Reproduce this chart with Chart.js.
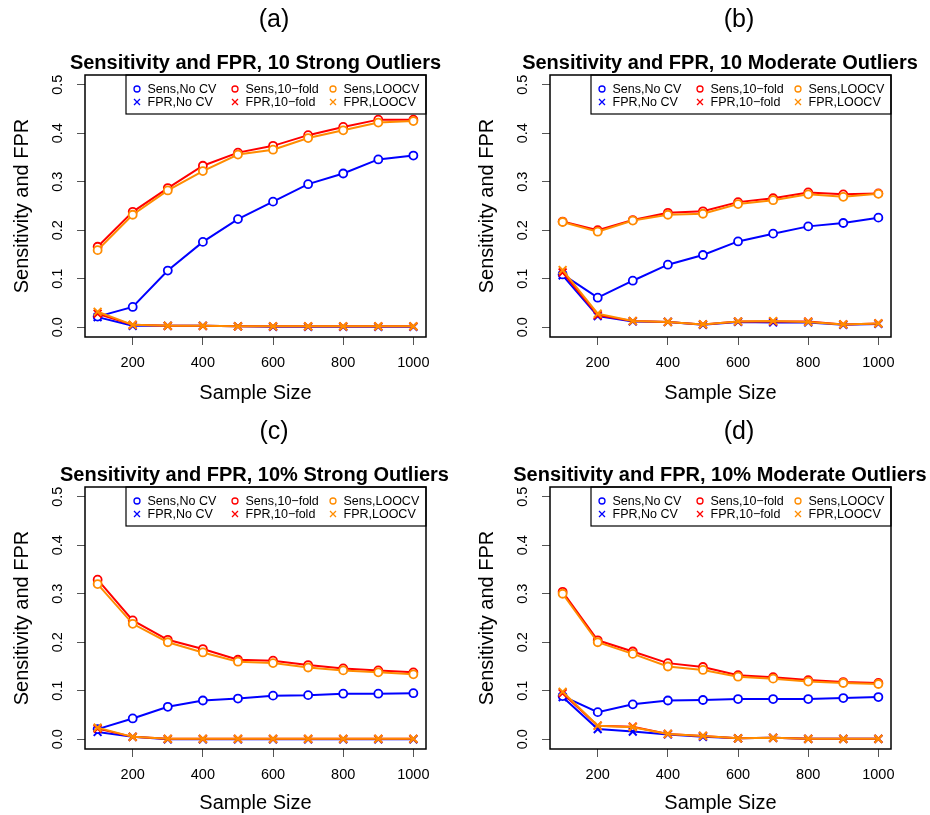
<!DOCTYPE html>
<html>
<head>
<meta charset="utf-8">
<script src="https://cdn.jsdelivr.net/npm/chart.js@4.4.0/dist/chart.umd.min.js"></script>
<style>
html,body{margin:0;padding:0;background:#fff;}
#fig{position:relative;width:930px;height:815px;overflow:hidden;background:#fff;font-family:"Liberation Sans",Arial,sans-serif;color:#000;}
.panel{position:absolute;}
canvas{display:block;}
.lab{position:absolute;font-size:25px;line-height:25px;white-space:nowrap;text-align:center;width:100px;}
.ttl{position:absolute;font-size:20px;font-weight:bold;line-height:20px;white-space:nowrap;text-align:center;width:500px;}
</style>
</head>
<body>
<div id="fig"></div>
<script>
// ---------- data ----------
const sampleSizes = [100, 200, 300, 400, 500, 600, 700, 800, 900, 1000];
const xTicks = [200, 400, 600, 800, 1000];
const yTicks = [0, 0.1, 0.2, 0.3, 0.4, 0.5];
const panelLabels = ['(a)', '(b)', '(c)', '(d)'];
const panelTitles = [
  'Sensitivity and FPR, 10 Strong Outliers',
  'Sensitivity and FPR, 10 Moderate Outliers',
  'Sensitivity and FPR, 10% Strong Outliers',
  'Sensitivity and FPR, 10% Moderate Outliers'
];
const seriesNames = ['Sens,No CV', 'Sens,10\u2212fold', 'Sens,LOOCV', 'FPR,No CV', 'FPR,10\u2212fold', 'FPR,LOOCV'];
const xAxisTitle = 'Sample Size';
const yAxisTitle = 'Sensitivity and FPR';

// panel (a): 10 strong outliers
const sensNoCV_a = [0.022, 0.042, 0.117, 0.176, 0.223, 0.259, 0.295, 0.317, 0.346, 0.354];
const sens10_a   = [0.166, 0.238, 0.287, 0.333, 0.360, 0.374, 0.396, 0.413, 0.428, 0.428];
const sensLOO_a  = [0.159, 0.232, 0.282, 0.322, 0.356, 0.366, 0.390, 0.406, 0.422, 0.425];
const fprNoCV_a  = [0.021, 0.003, 0.003, 0.003, 0.002, 0.001, 0.001, 0.001, 0.001, 0.001];
const fpr10_a    = [0.028, 0.005, 0.003, 0.003, 0.002, 0.002, 0.002, 0.002, 0.002, 0.002];
const fprLOO_a   = [0.032, 0.005, 0.003, 0.003, 0.002, 0.002, 0.002, 0.002, 0.002, 0.002];

// panel (b): 10 moderate outliers
const sensNoCV_b = [0.109, 0.061, 0.096, 0.129, 0.149, 0.177, 0.193, 0.208, 0.215, 0.226];
const sens10_b   = [0.218, 0.200, 0.221, 0.236, 0.239, 0.258, 0.266, 0.278, 0.274, 0.276];
const sensLOO_b  = [0.217, 0.197, 0.220, 0.232, 0.234, 0.254, 0.262, 0.274, 0.269, 0.275];
const fprNoCV_b  = [0.107, 0.023, 0.012, 0.011, 0.005, 0.011, 0.010, 0.010, 0.005, 0.007];
const fpr10_b    = [0.113, 0.025, 0.013, 0.011, 0.006, 0.012, 0.012, 0.012, 0.006, 0.008];
const fprLOO_b   = [0.118, 0.028, 0.013, 0.011, 0.006, 0.012, 0.013, 0.011, 0.006, 0.008];

// panel (c): 10% strong outliers
const sensNoCV_c = [0.021, 0.043, 0.067, 0.080, 0.084, 0.090, 0.091, 0.094, 0.094, 0.095];
const sens10_c   = [0.329, 0.245, 0.205, 0.186, 0.164, 0.162, 0.153, 0.146, 0.142, 0.138];
const sensLOO_c  = [0.320, 0.238, 0.200, 0.179, 0.160, 0.157, 0.148, 0.142, 0.138, 0.134];
const fprNoCV_c  = [0.015, 0.005, 0.000, 0.000, 0.000, 0.000, 0.000, 0.000, 0.000, 0.000];
const fpr10_c    = [0.022, 0.005, 0.001, 0.001, 0.001, 0.001, 0.001, 0.001, 0.001, 0.001];
const fprLOO_c   = [0.024, 0.005, 0.001, 0.001, 0.001, 0.001, 0.001, 0.001, 0.001, 0.001];

// panel (d): 10% moderate outliers
const sensNoCV_d = [0.089, 0.056, 0.072, 0.080, 0.081, 0.083, 0.083, 0.083, 0.085, 0.087];
const sens10_d   = [0.304, 0.204, 0.181, 0.157, 0.149, 0.132, 0.128, 0.122, 0.118, 0.116];
const sensLOO_d  = [0.300, 0.200, 0.176, 0.150, 0.143, 0.129, 0.125, 0.119, 0.116, 0.114];
const fprNoCV_d  = [0.087, 0.021, 0.016, 0.010, 0.005, 0.002, 0.003, 0.001, 0.001, 0.001];
const fpr10_d    = [0.095, 0.028, 0.026, 0.011, 0.007, 0.002, 0.003, 0.001, 0.001, 0.001];
const fprLOO_d   = [0.098, 0.028, 0.025, 0.011, 0.007, 0.002, 0.003, 0.001, 0.001, 0.001];

const panelSeries = [
  [sensNoCV_a, sens10_a, sensLOO_a, fprNoCV_a, fpr10_a, fprLOO_a],
  [sensNoCV_b, sens10_b, sensLOO_b, fprNoCV_b, fpr10_b, fprLOO_b],
  [sensNoCV_c, sens10_c, sensLOO_c, fprNoCV_c, fpr10_c, fprLOO_c],
  [sensNoCV_d, sens10_d, sensLOO_d, fprNoCV_d, fpr10_d, fprLOO_d]
];

// ---------- styling / layout ----------
const FONT = '"Liberation Sans", Arial, Helvetica, sans-serif';
const methodColors = ['#0000FF', '#FF0000', '#FF8C00'];
const methodOrder = [2, 1, 0]; // orange on top
const panelBoxes = [
  {left: 0,   top: 0,   w: 465, h: 408, xh: 71, xpb: 3, labX: 274, ttlX: 255.5},
  {left: 465, top: 0,   w: 465, h: 408, xh: 71, xpb: 3, labX: 274, ttlX: 255},
  {left: 0,   top: 412, w: 465, h: 403, xh: 66, xpb: 0, labX: 274, ttlX: 254.5},
  {left: 465, top: 412, w: 465, h: 403, xh: 66, xpb: 0, labX: 274, ttlX: 255}
];

const boxPlugin = {
  id: 'rBox',
  afterDraw(chart) {
    const {ctx, chartArea: a} = chart;
    ctx.save();
    ctx.strokeStyle = '#000';
    ctx.lineWidth = 1.5;
    ctx.strokeRect(a.left, a.top, a.right - a.left, a.bottom - a.top);
    ctx.restore();
  }
};

const legendPlugin = {
  id: 'rLegend',
  afterDatasetsDraw(chart) {
    const {ctx, chartArea: a} = chart;
    const w = 300, h = 39;
    const x0 = a.right - w, y0 = a.top;
    ctx.save();
    ctx.fillStyle = '#fff';
    ctx.fillRect(x0, y0, w, h);
    ctx.strokeStyle = '#000';
    ctx.lineWidth = 1.2;
    ctx.strokeRect(x0, y0, w, h);
    ctx.font = '12.5px ' + FONT;
    ctx.textBaseline = 'middle';
    ctx.textAlign = 'left';
    chart.data.datasets.forEach((ds, k) => {
      const col = k % 3, row = Math.floor(k / 3);
      const cx = x0 + 11 + col * 98, cy = y0 + 14 + row * 13;
      ctx.strokeStyle = ds.borderColor;
      ctx.lineWidth = 1.3;
      ctx.beginPath();
      if (row === 0) {
        ctx.arc(cx, cy, 3, 0, Math.PI * 2);
      } else {
        const s = 3;
        ctx.moveTo(cx - s, cy - s); ctx.lineTo(cx + s, cy + s);
        ctx.moveTo(cx + s, cy - s); ctx.lineTo(cx - s, cy + s);
      }
      ctx.stroke();
      ctx.fillStyle = '#000';
      ctx.fillText(ds.label, cx + 10.5, cy + 0.5);
    });
    ctx.restore();
  }
};

const fig = document.getElementById('fig');

panelBoxes.forEach((pb, p) => {
  const div = document.createElement('div');
  div.className = 'panel';
  div.style.left = pb.left + 'px';
  div.style.top = pb.top + 'px';
  div.style.width = pb.w + 'px';
  div.style.height = pb.h + 'px';
  const cv = document.createElement('canvas');
  cv.width = pb.w; cv.height = pb.h;
  div.appendChild(cv);
  fig.appendChild(div);

  const lab = document.createElement('div');
  lab.className = 'lab';
  lab.textContent = panelLabels[p];
  lab.style.left = (pb.left + pb.labX - 50) + 'px';
  lab.style.top = (pb.top + 6.3) + 'px';
  fig.appendChild(lab);

  const ttl = document.createElement('div');
  ttl.className = 'ttl';
  ttl.textContent = panelTitles[p];
  ttl.style.left = (pb.left + pb.ttlX - 250) + 'px';
  ttl.style.top = (pb.top + 51.7) + 'px';
  fig.appendChild(ttl);

  const datasets = panelSeries[p].map((vals, k) => {
    const m = k % 3;
    const isSens = k < 3;
    const c = methodColors[m];
    return {
      label: seriesNames[k],
      data: vals.map((v, i) => ({x: sampleSizes[i], y: v})),
      borderColor: c,
      backgroundColor: c,
      borderWidth: 2,
      tension: 0,
      fill: false,
      pointStyle: isSens ? 'circle' : 'crossRot',
      pointRadius: isSens ? 4 : 5.5,
      pointHoverRadius: isSens ? 4 : 5.5,
      pointBorderWidth: isSens ? 1.8 : 2,
      pointBorderColor: c,
      pointBackgroundColor: isSens ? '#fff' : c,
      order: methodOrder[m]
    };
  });

  new Chart(cv, {
    type: 'line',
    data: {datasets},
    options: {
      responsive: false,
      animation: false,
      events: [],
      layout: {padding: {top: 75, left: 0, right: 39, bottom: 0}},
      plugins: {legend: {display: false}, tooltip: {enabled: false}, title: {display: false}},
      scales: {
        x: {
          type: 'linear', min: 64, max: 1036,
          afterBuildTicks: s => { s.ticks = xTicks.map(v => ({value: v})); },
          afterFit: s => { s.height = pb.xh; },
          ticks: {autoSkip: false, maxRotation: 0, minRotation: 0, padding: 9, color: '#000',
                  font: {size: 14.5, family: FONT}, callback: v => String(v)},
          grid: {drawOnChartArea: false, drawTicks: true, tickLength: 8, color: '#555', lineWidth: 1},
          border: {display: false},
          title: {display: true, text: xAxisTitle, color: '#000', font: {size: 20, family: FONT},
                  padding: {top: 0, bottom: pb.xpb}}
        },
        y: {
          type: 'linear', min: -0.02, max: 0.52,
          afterBuildTicks: s => { s.ticks = yTicks.map(v => ({value: v})); },
          afterFit: s => { s.width = 85; },
          ticks: {minRotation: 90, maxRotation: 90, crossAlign: 'center', padding: 9, color: '#000',
                  font: {size: 14.5, family: FONT}, callback: v => Number(v).toFixed(1)},
          grid: {drawOnChartArea: false, drawTicks: true, tickLength: 8, color: '#555', lineWidth: 1},
          border: {display: false},
          title: {display: true, text: yAxisTitle, color: '#000', font: {size: 20, family: FONT},
                  padding: {top: 10, bottom: 0}}
        }
      }
    },
    plugins: [boxPlugin, legendPlugin]
  });
});
</script>
</body>
</html>
